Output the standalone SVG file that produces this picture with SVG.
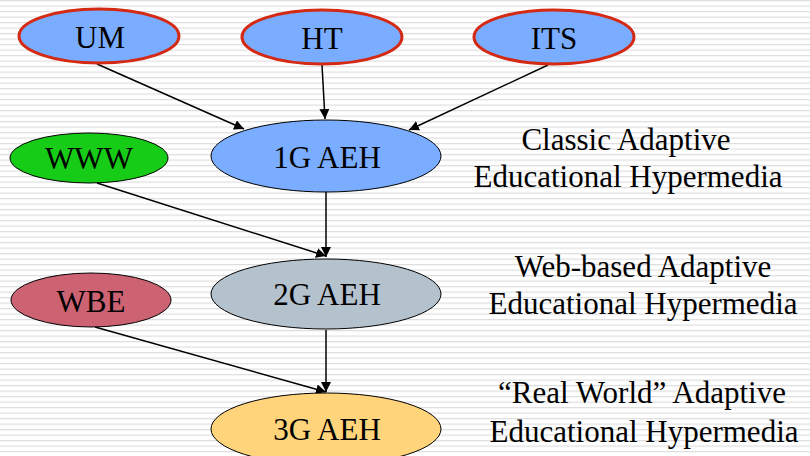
<svg xmlns="http://www.w3.org/2000/svg" width="810" height="456" viewBox="0 0 810 456">
  <defs>
    <pattern id="stripes" width="20" height="5.5" patternUnits="userSpaceOnUse">
      <rect width="20" height="5.5" fill="#ffffff"/>
      <rect y="0" width="20" height="1.2" fill="#dedede"/>
    </pattern>
    <marker id="arrow" viewBox="0 0 10 10" refX="10" refY="5" markerWidth="10" markerHeight="10" markerUnits="userSpaceOnUse" orient="auto">
      <path d="M0,0 L10,5 L0,10 Z" fill="#000"/>
    </marker>
    <style>
      .lbl { font-family: "Liberation Serif", "Times New Roman", serif; font-size: 31px; fill: #000; text-anchor: middle; }
      .src { stroke: #d42a14; stroke-width: 3; }
      .gen { stroke: #000; stroke-width: 1; }
      .edge { stroke: #000; stroke-width: 1.5; fill: none; marker-end: url(#arrow); }
    </style>
  </defs>

  <rect width="810" height="456" fill="url(#stripes)"/>

  <g id="connectors">
    <line class="edge" x1="97" y1="64" x2="244" y2="129"/>
    <line class="edge" x1="322" y1="65" x2="325" y2="119"/>
    <line class="edge" x1="548" y1="65" x2="409" y2="130"/>
    <line class="edge" x1="326" y1="192" x2="326" y2="257"/>
    <line class="edge" x1="97" y1="183" x2="326" y2="256"/>
    <line class="edge" x1="326" y1="330" x2="326" y2="392"/>
    <line class="edge" x1="95" y1="327" x2="326" y2="392"/>
  </g>

  <g id="node-um">
    <ellipse class="src" cx="99" cy="36" rx="80" ry="27" fill="#7aacff"/>
    <text class="lbl" x="100" y="48">UM</text>
  </g>
  <g id="node-ht">
    <ellipse class="src" cx="322" cy="37" rx="80" ry="27" fill="#7aacff"/>
    <text class="lbl" x="322" y="49">HT</text>
  </g>
  <g id="node-its">
    <ellipse class="src" cx="554" cy="37" rx="80" ry="27" fill="#7aacff"/>
    <text class="lbl" x="554" y="49">ITS</text>
  </g>

  <g id="node-www">
    <ellipse class="gen" cx="89" cy="158" rx="79" ry="25" fill="#16cc16"/>
    <text class="lbl" x="89" y="169">WWW</text>
  </g>
  <g id="node-1g">
    <ellipse class="gen" cx="326" cy="156" rx="115" ry="36" fill="#7aacff"/>
    <text class="lbl" x="327" y="168">1G AEH</text>
  </g>

  <g id="node-wbe">
    <ellipse class="gen" cx="91" cy="300" rx="80" ry="27" fill="#cc6272"/>
    <text class="lbl" x="91" y="312">WBE</text>
  </g>
  <g id="node-2g">
    <ellipse class="gen" cx="326" cy="294" rx="115" ry="35" fill="#b4c2ce"/>
    <text class="lbl" x="327" y="305">2G AEH</text>
  </g>

  <g id="node-3g">
    <ellipse class="gen" cx="326" cy="429" rx="115" ry="36" fill="#ffd47a"/>
    <text class="lbl" x="327" y="440">3G AEH</text>
  </g>

  <g id="captions">
    <text class="lbl" x="626" y="150">Classic Adaptive</text>
    <text class="lbl" x="628" y="187">Educational Hypermedia</text>
    <text class="lbl" x="643" y="277">Web-based Adaptive</text>
    <text class="lbl" x="643" y="314">Educational Hypermedia</text>
    <text class="lbl" x="642" y="403">“Real World” Adaptive</text>
    <text class="lbl" x="644" y="442">Educational Hypermedia</text>
  </g>
</svg>
